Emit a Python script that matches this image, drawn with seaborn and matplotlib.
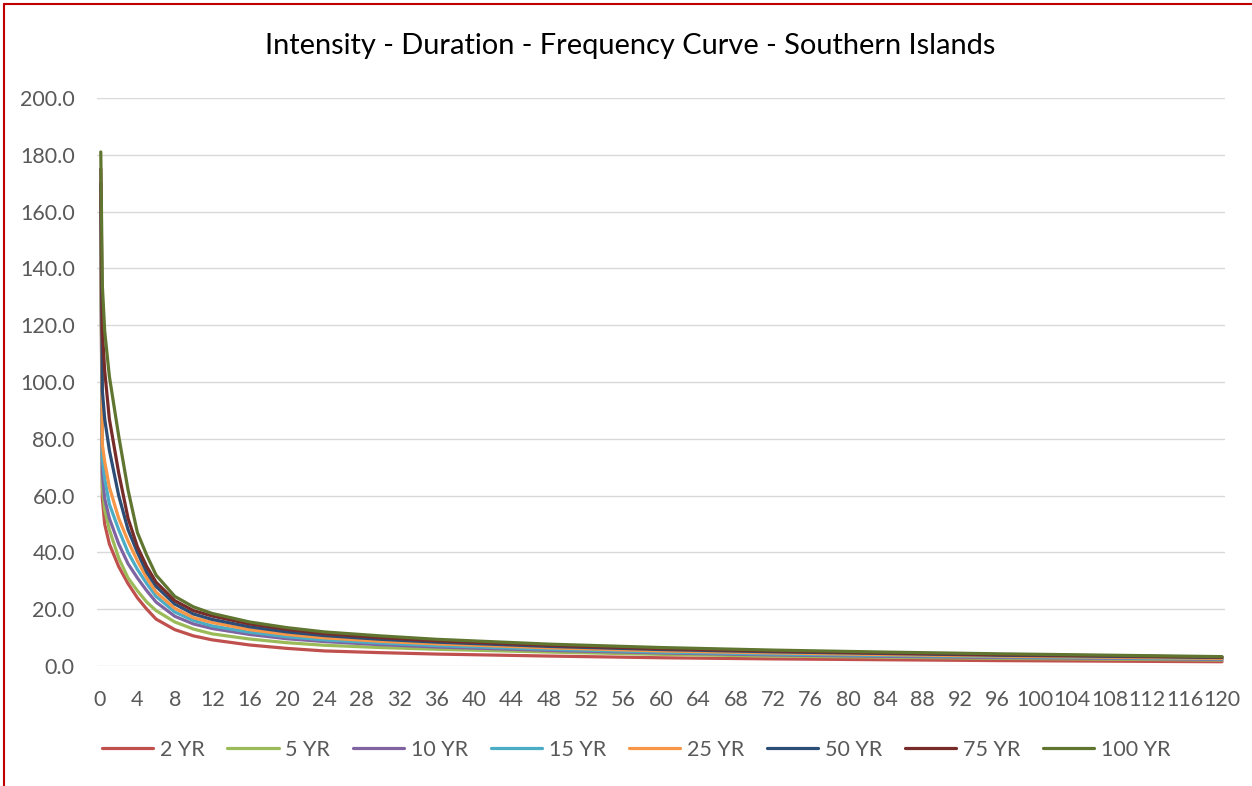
import matplotlib
matplotlib.use("Agg")
import matplotlib.pyplot as plt
from matplotlib.lines import Line2D
import seaborn as sns
import pandas as pd

# Duration (hours)
durations = [0.083, 0.25, 0.5, 1, 2, 3, 4, 5, 6, 8, 10, 12, 16, 20, 24, 30, 36, 48, 60, 72, 84, 96, 108, 120]

yr2   = [157, 59, 50, 43, 35, 29, 24, 20, 16.5, 12.8, 10.6, 9.2, 7.4, 6.2, 5.3, 4.7, 4.2, 3.5, 2.9, 2.5, 2.2, 1.9, 1.7, 1.5]
yr5   = [159, 63, 55, 48, 38, 31, 26.5, 22.5, 19.5, 15.5, 13.0, 11.3, 9.5, 8.2, 7.3, 6.5, 5.9, 4.9, 4.1, 3.5, 3.1, 2.7, 2.4, 2.1]
yr10  = [161, 68, 59, 52, 43, 36, 31, 26.5, 22.5, 17.5, 14.8, 13.2, 11.1, 9.6, 8.6, 7.5, 6.7, 5.5, 4.6, 3.9, 3.4, 3.0, 2.7, 2.3]
yr15  = [163, 73, 66, 57, 48, 40, 34, 29, 24.5, 19.0, 16.0, 14.1, 11.9, 10.3, 9.2, 8.1, 7.2, 5.9, 4.9, 4.2, 3.7, 3.3, 2.9, 2.5]
yr25  = [165, 78, 72, 63, 52, 44, 37, 31, 26, 20.3, 17.0, 15.3, 12.8, 11.1, 9.9, 8.7, 7.8, 6.4, 5.3, 4.6, 4.0, 3.5, 3.1, 2.7]
yr50  = [170, 97, 87, 76, 60, 48, 40, 33, 28, 21.8, 18.3, 16.4, 13.8, 12.0, 10.7, 9.4, 8.4, 6.9, 5.8, 5.0, 4.4, 3.8, 3.4, 3.0]
yr75  = [175, 118, 104, 87, 68, 52, 42, 35, 29.5, 23.0, 19.5, 17.6, 14.8, 12.9, 11.4, 10.0, 8.9, 7.3, 6.1, 5.3, 4.6, 4.0, 3.6, 3.1]
yr100 = [181, 134, 118, 102, 81, 62, 47, 39, 32, 24.5, 20.8, 18.5, 15.5, 13.5, 12.0, 10.6, 9.4, 7.7, 6.5, 5.6, 4.9, 4.3, 3.8, 3.3]

series_names = ["2 YR", "5 YR", "10 YR", "15 YR", "25 YR", "50 YR", "75 YR", "100 YR"]
series_values = [yr2, yr5, yr10, yr15, yr25, yr50, yr75, yr100]
colors = ["#C0504D", "#9BBB59", "#8064A2", "#4BACC6", "#F79646", "#2C4D75", "#772C2A", "#5F7530"]

x_ticks = list(range(0, 121, 4))
y_ticks = list(range(0, 201, 20))

rows = []
for name, vals in zip(series_names, series_values):
    for d, v in zip(durations, vals):
        rows.append({"Duration": d, "Intensity": v, "Series": name})
df = pd.DataFrame(rows)

sns.set_theme(style="white")
plt.rcParams["font.family"] = ["Lato", "DejaVu Sans"]

W, H = 1252, 786
fig = plt.figure(figsize=(W / 100, H / 100), dpi=100)
ax = fig.add_axes([97 / W, 1 - 666 / H, (1225 - 97) / W, (666 - 98) / H])

sns.lineplot(data=df, x="Duration", y="Intensity", hue="Series",
             hue_order=series_names, palette=dict(zip(series_names, colors)),
             linewidth=2.3, ax=ax, legend=False, sort=True, errorbar=None)

ax.set_xlim(-3 / 9.35, 120 + 3 / 9.35)
ax.set_ylim(0, 200)
ax.set_xticks(x_ticks)
ax.set_xticklabels([str(t) for t in x_ticks])
ax.set_yticks(y_ticks)
ax.set_yticklabels([f"{t:.1f}" for t in y_ticks])
ax.yaxis.grid(True, color="#D9D9D9", linewidth=1.0)
ax.xaxis.grid(False)
ax.set_axisbelow(True)
for s in ax.spines.values():
    s.set_visible(False)
ax.tick_params(axis="both", length=0, colors="#595959", labelsize=15.5)
ax.tick_params(axis="x", pad=17)
ax.tick_params(axis="y", pad=16)
ax.set_xlabel("")
ax.set_ylabel("")

fig.text(630 / W, 1 - 46 / H, "Intensity - Duration - Frequency Curve - Southern Islands",
         ha="center", va="center", fontsize=20.9, color="#000000")

handles = [Line2D([0], [0], color=c, linewidth=2.3) for c in colors]
fig.legend(handles, series_names, loc="center", bbox_to_anchor=(636 / W, 1 - 750 / H),
           ncol=8, frameon=False, fontsize=15.5, handlelength=2.4, handletextpad=0.3,
           columnspacing=1.05, labelcolor="#595959")

# red frame on left and top
fig.add_artist(Line2D([3.5 / W, 3.5 / W], [0, 1 - 4 / H], color="#C00000", linewidth=1.5,
                      transform=fig.transFigure))
fig.add_artist(Line2D([3.5 / W, 1], [1 - 4 / H, 1 - 4 / H], color="#C00000", linewidth=1.5,
                      transform=fig.transFigure))

fig.savefig("out.png", dpi=100, facecolor="white")
